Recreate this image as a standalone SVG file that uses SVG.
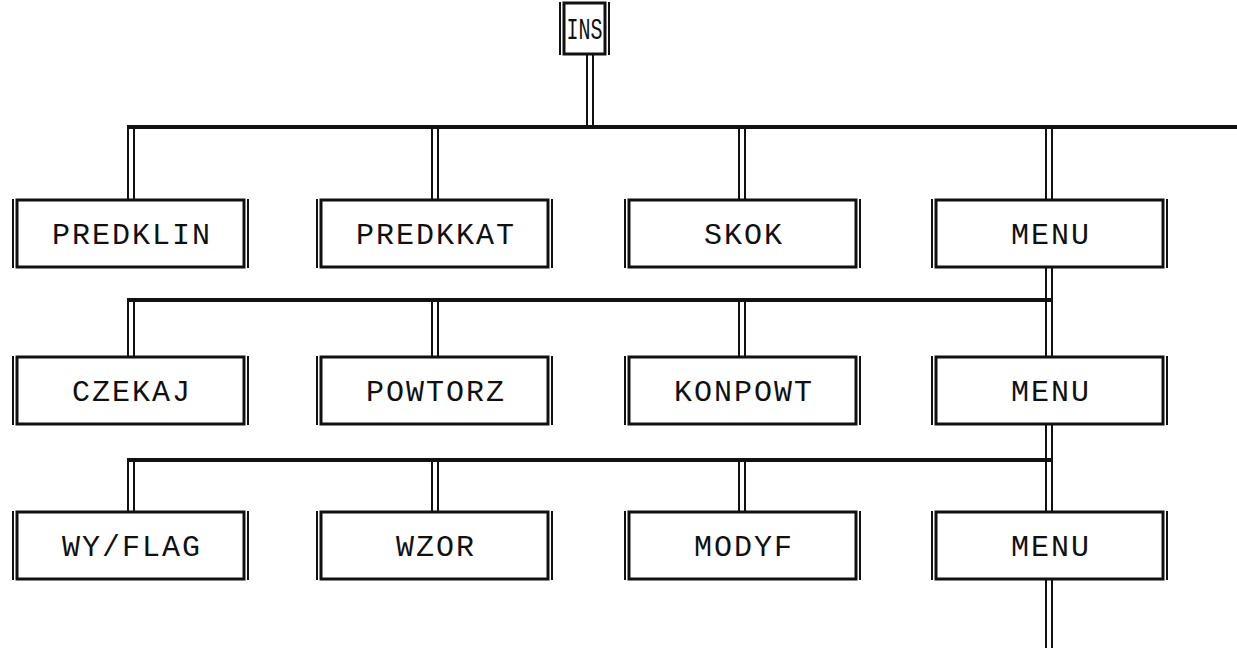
<svg xmlns="http://www.w3.org/2000/svg" width="1237" height="648" viewBox="0 0 1237 648">
<style>
.bg{fill:#fff}
.box{fill:#fff;stroke:#111;stroke-width:3}
.side{stroke:#111;stroke-width:2;fill:none}
.bus{stroke:#111;stroke-width:4;fill:none}
.wire{stroke:#111;stroke-width:2;fill:none}
.t{font-family:"Liberation Mono","Courier New",monospace;font-size:30px;letter-spacing:2px;fill:#111;text-anchor:middle}
.ti{font-family:"Liberation Mono","Courier New",monospace;font-size:30px;fill:#111;text-anchor:middle}
</style>
<defs>
<g id="frame">
<rect class="box" x="4" y="0" width="227" height="67"/>
<line class="side" x1="0" y1="-1" x2="0" y2="68"/>
<line class="side" x1="235" y1="-1" x2="235" y2="68"/>
</g>
</defs>
<rect class="bg" x="0" y="0" width="1237" height="648"/>
<g id="connectors">
<line class="bus" x1="128" y1="127" x2="1237" y2="127"/>
<line class="bus" x1="128" y1="300" x2="1052" y2="300"/>
<line class="bus" x1="128" y1="460" x2="1052" y2="460"/>
<!-- INS stem -->
<line class="wire" x1="587" y1="54" x2="587" y2="125"/>
<line class="wire" x1="593" y1="54" x2="593" y2="125"/>
<!-- row1 drops -->
<line class="wire" x1="128" y1="125" x2="128" y2="200"/><line class="wire" x1="134" y1="129" x2="134" y2="200"/>
<line class="wire" x1="432" y1="129" x2="432" y2="200"/><line class="wire" x1="438" y1="129" x2="438" y2="200"/>
<line class="wire" x1="739" y1="129" x2="739" y2="200"/><line class="wire" x1="745" y1="129" x2="745" y2="200"/>
<line class="wire" x1="1046" y1="129" x2="1046" y2="200"/><line class="wire" x1="1052" y1="129" x2="1052" y2="200"/>
<!-- MENU1 to row2 -->
<line class="wire" x1="1046" y1="267" x2="1046" y2="357"/><line class="wire" x1="1052" y1="267" x2="1052" y2="357"/>
<line class="wire" x1="128" y1="298" x2="128" y2="357"/><line class="wire" x1="134" y1="302" x2="134" y2="357"/>
<line class="wire" x1="432" y1="302" x2="432" y2="357"/><line class="wire" x1="438" y1="302" x2="438" y2="357"/>
<line class="wire" x1="739" y1="302" x2="739" y2="357"/><line class="wire" x1="745" y1="302" x2="745" y2="357"/>
<!-- MENU2 to row3 -->
<line class="wire" x1="1046" y1="424" x2="1046" y2="512"/><line class="wire" x1="1052" y1="424" x2="1052" y2="512"/>
<line class="wire" x1="128" y1="458" x2="128" y2="512"/><line class="wire" x1="134" y1="462" x2="134" y2="512"/>
<line class="wire" x1="432" y1="462" x2="432" y2="512"/><line class="wire" x1="438" y1="462" x2="438" y2="512"/>
<line class="wire" x1="739" y1="462" x2="739" y2="512"/><line class="wire" x1="745" y1="462" x2="745" y2="512"/>
<!-- MENU3 down -->
<line class="wire" x1="1046" y1="579" x2="1046" y2="648"/><line class="wire" x1="1052" y1="579" x2="1052" y2="648"/>
</g>
<g id="ins">
<rect class="box" x="564" y="3" width="41" height="51"/>
<line class="side" x1="560" y1="2" x2="560" y2="55"/>
<line class="side" x1="609" y1="2" x2="609" y2="55"/>
<text class="ti" x="584.5" y="39" textLength="36" lengthAdjust="spacingAndGlyphs">INS</text>
</g>
<g id="predklin"><use href="#frame" x="13" y="200"/><text class="t" x="132" y="244">PREDKLIN</text></g>
<g id="predkkat"><use href="#frame" x="317" y="200"/><text class="t" x="436" y="244">PREDKKAT</text></g>
<g id="skok"><use href="#frame" x="625" y="200"/><text class="t" x="744" y="244">SKOK</text></g>
<g id="menu1"><use href="#frame" x="932" y="200"/><text class="t" x="1051" y="244">MENU</text></g>
<g id="czekaj"><use href="#frame" x="13" y="357"/><text class="t" x="132" y="401">CZEKAJ</text></g>
<g id="powtorz"><use href="#frame" x="317" y="357"/><text class="t" x="436" y="401">POWTORZ</text></g>
<g id="konpowt"><use href="#frame" x="625" y="357"/><text class="t" x="744" y="401">KONPOWT</text></g>
<g id="menu2"><use href="#frame" x="932" y="357"/><text class="t" x="1051" y="401">MENU</text></g>
<g id="wyflag"><use href="#frame" x="13" y="512"/><text class="t" x="132" y="556">WY/FLAG</text></g>
<g id="wzor"><use href="#frame" x="317" y="512"/><text class="t" x="436" y="556">WZOR</text></g>
<g id="modyf"><use href="#frame" x="625" y="512"/><text class="t" x="744" y="556">MODYF</text></g>
<g id="menu3"><use href="#frame" x="932" y="512"/><text class="t" x="1051" y="556">MENU</text></g>
</svg>
